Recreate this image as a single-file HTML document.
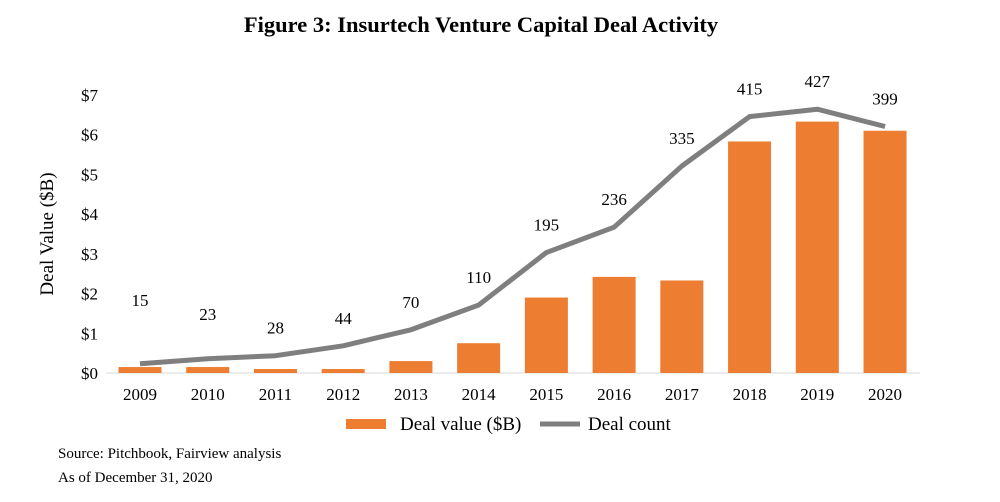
<!DOCTYPE html>
<html><head><meta charset="utf-8"><style>
body{margin:0;background:#fff;width:1000px;height:497px;overflow:hidden;font-family:"Liberation Serif",serif}
</style></head><body>
<svg width="1000" height="497" xmlns="http://www.w3.org/2000/svg" font-family="Liberation Serif, serif">
<text x="481" y="32" text-anchor="middle" font-size="22.5" font-weight="bold">Figure 3: Insurtech Venture Capital Deal Activity</text>
<text transform="translate(53,234) rotate(-90)" text-anchor="middle" font-size="19">Deal Value ($B)</text>
<g id="yaxis"></g>
<line x1="106" y1="373" x2="920" y2="373" stroke="#d9d9d9" stroke-width="1"/>
<g id="bars"></g>
<g id="line"></g>
<g id="xaxis"></g>
<g>
<rect x="346" y="419" width="40" height="10" fill="#ed7d31"/>
<text x="400" y="430" font-size="19">Deal value ($B)</text>
<line x1="540" y1="424" x2="580" y2="424" stroke="#7f7f7f" stroke-width="5"/>
<text x="588" y="430" font-size="19">Deal count</text>
</g>
<text x="58" y="458" font-size="15">Source: Pitchbook, Fairview analysis</text>
<text x="58" y="482" font-size="15">As of December 31, 2020</text>
</svg>
<script>
const categories=["2009","2010","2011","2012","2013","2014","2015","2016","2017","2018","2019","2020"];
const dealValues=[0.15,0.15,0.1,0.1,0.3,0.75,1.9,2.42,2.33,5.83,6.33,6.1];
const dealCounts=[15,23,28,44,70,110,195,236,335,415,427,399];
const yTicks=[0,1,2,3,4,5,6,7];
const yTickLabels=["$0","$1","$2","$3","$4","$5","$6","$7"];
const NS="http://www.w3.org/2000/svg";
const y0=373,yTop=95,x0=140,dx=67.73,barW=43;
const yv=v=>y0-(v/7)*(y0-yTop);
const yc=c=>y0-(c/450)*(y0-yTop);
const xc=i=>x0+i*dx;
function mk(t,a,p){const e=document.createElementNS(NS,t);for(const k in a)e.setAttribute(k,a[k]);p.appendChild(e);return e;}
const ya=document.getElementById('yaxis');
yTicks.forEach((v,i)=>{const t=mk('text',{x:98,y:yv(v)+6,'text-anchor':'end','font-size':17},ya);t.textContent=yTickLabels[i];

});
const bg=document.getElementById('bars'),xa=document.getElementById('xaxis');
categories.forEach((c,i)=>{const r=mk('rect',{x:xc(i)-barW/2,y:yv(dealValues[i]),width:barW,height:y0-yv(dealValues[i]),fill:'#ed7d31'},bg);


const t=mk('text',{x:xc(i),y:400,'text-anchor':'middle','font-size':17},xa);t.textContent=c;

});
const lg=document.getElementById('line');
const pl=mk('polyline',{points:dealCounts.map((c,i)=>xc(i)+','+yc(c)).join(' '),fill:'none',stroke:'#7f7f7f','stroke-width':5,'stroke-linejoin':'round'},lg);


dealCounts.forEach((c,i)=>{const ly=Math.min(yc(c)-22,306+i*14);const t=mk('text',{x:xc(i),y:ly,'text-anchor':'middle','font-size':17},lg);t.textContent=c;

});
</script>
</body></html>
